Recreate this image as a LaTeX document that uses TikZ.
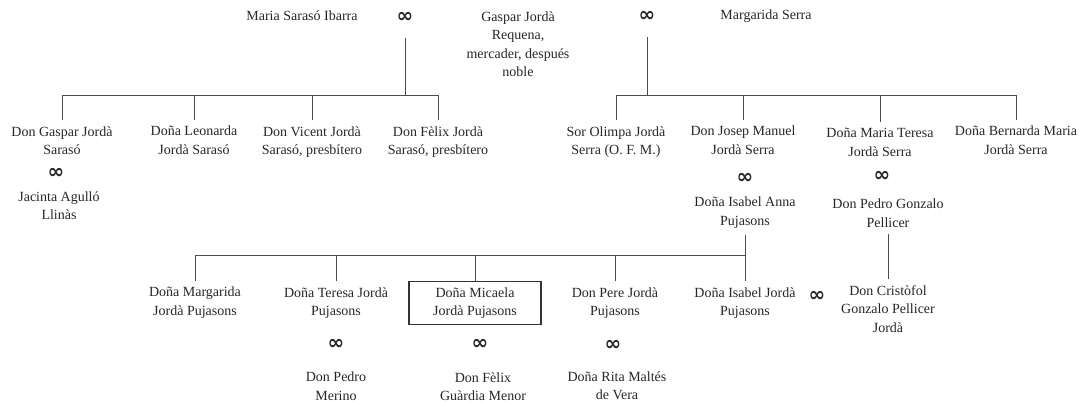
\documentclass[tikz,border=0pt]{standalone}
\usepackage{fontspec}
\setmainfont{Liberation Serif}
\newfontfamily\marrfont{DejaVu Sans}
\begin{document}
\begin{tikzpicture}[x=0.75pt,y=-0.75pt,
        person/.style={anchor=north, align=center, inner xsep=2pt, inner ysep=4.5pt, text=black!85, font=\fontsize{10.5}{13.9}\selectfont},
        marr/.style={inner sep=0pt, text=black!85, font=\marrfont\fontsize{15}{15}\selectfont\bfseries},
        link/.style={draw=black!70, line width=0.6pt}]
        \useasboundingbox (0,0) rectangle (1085,403);
        % parents
        \node[person] (T1) at (302,4) {Maria Sarasó Ibarra};
        \node[marr] (M1) at (405,17) {∞};
        \node[person] (T2) at (518,5) {Gaspar Jordà\\Requena,\\mercader, después\\noble};
        \node[marr] (M2) at (647,16) {∞};
        \node[person] (T3) at (766,4) {Margarida Serra};
        \coordinate (barA) at (405,95);
        \coordinate (barB) at (647,95);
        % children of Maria Sarasó
        \node[person] (A1) at (62,120) {Don Gaspar Jordà\\Sarasó};
        \node[person] (A2) at (194,120) {Doña Leonarda\\Jordà Sarasó};
        \node[person] (A3) at (312,120) {Don Vicent Jordà\\Sarasó, presbítero};
        \node[person] (A4) at (438,120) {Don Fèlix Jordà\\Sarasó, presbítero};
        \node[marr] (MA1) at (56,173) {∞};
        \node[person] (SA1) at (59,185) {Jacinta Agulló\\Llinàs};
        % children of Margarida Serra
        \node[person] (B1) at (616,120) {Sor Olimpa Jordà\\Serra (O. F. M.)};
        \node[person] (B2) at (743,120) {Don Josep Manuel\\Jordà Serra};
        \node[person] (B3) at (880,122) {Doña Maria Teresa\\Jordà Serra};
        \node[person] (B4) at (1016,120) {Doña Bernarda Maria\\Jordà Serra};
        \node[marr] (MB2) at (745,178) {∞};
        \node[person] (SB2) at (745,191) {Doña Isabel Anna\\Pujasons};
        \node[marr] (MB3) at (882,176) {∞};
        \node[person] (SB3) at (888,193) {Don Pedro Gonzalo\\Pellicer};
        \coordinate (barC) at (745,255);
        % grandchildren
        \node[person] (C1) at (195,281) {Doña Margarida\\Jordà Pujasons};
        \node[person] (C2) at (336,281) {Doña Teresa Jordà\\Pujasons};
        \node[person, draw=black!80, line width=0.8pt, minimum width=99pt, minimum height=32pt] (C3) at (475,281) {Doña Micaela\\Jordà Pujasons};
        \node[person] (C4) at (615,281) {Don Pere Jordà\\Pujasons};
        \node[person] (C5) at (745,281) {Doña Isabel Jordà\\Pujasons};
        \node[marr] (MC2) at (336,344) {∞};
        \node[person] (SC2) at (336,366) {Don Pedro\\Merino};
        \node[marr] (MC3) at (480,344) {∞};
        \node[person] (SC3) at (483,366) {Don Fèlix\\Guàrdia Menor};
        \node[marr] (MC4) at (613,345) {∞};
        \node[person] (SC4) at (617,365) {Doña Rita Maltés\\de Vera};
        \node[marr] (MC5) at (817,296) {∞};
        \node[person] (D1) at (888,279) {Don Cristòfol\\Gonzalo Pellicer\\Jordà};
        % lines
        \draw[link, shorten <=12pt] (M1) -- (barA);
        \draw[link, shorten <=12pt] (M2) -- (barB);
        \foreach \i in {1,...,4}
            \draw[link] (A\i.north) |- (barA);
        \foreach \i in {1,...,4}
            \draw[link] (B\i.north) |- (barB);
        \draw[link] (SB2) -- (C5);
        \foreach \i in {1,...,4}
            \draw[link] (C\i.north) |- (barC);
        \draw[link] (SB3) -- (D1);
    \end{tikzpicture}
\end{document}
